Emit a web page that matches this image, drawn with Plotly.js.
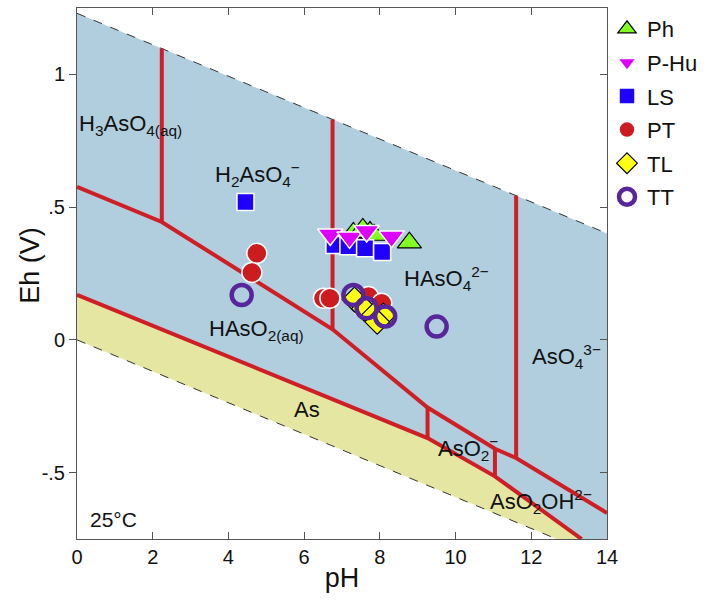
<!DOCTYPE html>
<html>
<head>
<meta charset="utf-8">
<script src="https://cdn.plot.ly/plotly-3.0.1.min.js"></script>
<style>html,body{margin:0;padding:0;background:#fff;}#chart{width:725px;height:600px;}</style>
</head>
<body>
<div id="chart"></div>
<script>
// ---- Water stability limits (dashed) ----
const waterUpperPH = [0, 14];
const waterUpperEh = [1.23, 0.401];
const waterLowerPH = [0, 12.67];
const waterLowerEh = [0, -0.75];

// ---- Arsenic species boundaries (red) ----
const asMetalPH = [0, 9.26, 11.04, 13.33];
const asMetalEh = [0.17, -0.37, -0.514, -0.75];
const redoxPH = [0, 2.24, 6.75, 9.26, 11.04, 11.6, 14];
const redoxEh = [0.576, 0.444, 0.04, -0.255, -0.41, -0.445, -0.652];
const vertPH = [2.24, 6.75, 9.26, 11.04, 11.6];
const vertLowEh = [0.444, 0.04, -0.37, -0.514, -0.445];
const vertHighEh = [1.097, 0.83, -0.255, -0.41, 0.543];

// ---- Samples ----
const phPH = [7.30, 7.55, 7.74, 7.85, 8.78];
const phEh = [0.403, 0.418, 0.406, 0.395, 0.366];
const phuPH = [6.69, 7.20, 7.65, 8.31];
const phuEh = [0.397, 0.386, 0.410, 0.389];
const lsPH = [4.45, 6.80, 7.17, 7.61, 8.06];
const lsEh = [0.519, 0.357, 0.353, 0.345, 0.331];
const ptPH = [4.75, 4.62, 6.51, 6.68, 7.70, 8.05, 7.55];
const ptEh = [0.326, 0.254, 0.157, 0.157, 0.163, 0.138, 0.125];
const tlPH = [7.33, 7.58, 7.83, 8.09, 7.93];
const tlEh = [0.152, 0.118, 0.092, 0.092, 0.068];
const ttPH = [4.35, 7.30, 7.65, 8.14, 9.50];
const ttEh = [0.169, 0.169, 0.119, 0.088, 0.050];

// ---- Species labels ----
const labelText = ['H<sub>3</sub>AsO<sub>4(aq)</sub>', 'H<sub>2</sub>AsO<sub>4</sub><sup>−</sup>',
  'HAsO<sub>4</sub><sup>2−</sup>', 'HAsO<sub>2(aq)</sub>', 'AsO<sub>4</sub><sup>3−</sup>', 'As',
  'AsO<sub>2</sub><sup>−</sup>', 'AsO<sub>2</sub>OH<sup>2−</sup>', '25°C'];
const labelPH = [0.0, 3.6, 8.59, 3.43, 11.97, 5.68, 9.48, 10.86, 0.29];
const labelEh = [0.81, 0.624, 0.233, 0.038, -0.064, -0.263, -0.41, -0.608, -0.677];

const FONT = 'Liberation Sans, Arial, sans-serif';
const RED = '#cf1f26';

// Build polygons from the boundary arrays
const blueX = waterUpperPH.concat([14]).concat(asMetalPH.slice().reverse());
const blueY = waterUpperEh.concat([-0.75]).concat(asMetalEh.slice().reverse());
const yellowX = asMetalPH.concat(waterLowerPH.slice().reverse());
const yellowY = asMetalEh.concat(waterLowerEh.slice().reverse());
const vx = [], vy = [];
vertPH.forEach((p, i) => { vx.push(p, p, null); vy.push(vertLowEh[i], vertHighEh[i], null); });

const traces = [
  {x: blueX, y: blueY, type: 'scatter', mode: 'lines', fill: 'toself', fillcolor: '#b0cede',
   line: {width: 0}, showlegend: false, hoverinfo: 'skip'},
  {x: yellowX, y: yellowY, type: 'scatter', mode: 'lines', fill: 'toself', fillcolor: '#e5e6a1',
   line: {width: 0}, showlegend: false, hoverinfo: 'skip'},
  {x: waterUpperPH, y: waterUpperEh, type: 'scatter', mode: 'lines',
   line: {color: '#333', width: 1, dash: 'dash'}, showlegend: false},
  {x: waterLowerPH, y: waterLowerEh, type: 'scatter', mode: 'lines', yaxis: 'y2',
   line: {color: '#333', width: 1, dash: 'dash'}, showlegend: false},
  {x: asMetalPH, y: asMetalEh, type: 'scatter', mode: 'lines', line: {color: RED, width: 4}, showlegend: false},
  {x: redoxPH, y: redoxEh, type: 'scatter', mode: 'lines', line: {color: RED, width: 4}, showlegend: false},
  {x: vx, y: vy, type: 'scatter', mode: 'lines', line: {color: RED, width: 4}, showlegend: false, connectgaps: false},
  {x: phPH, y: phEh, name: 'Ph', type: 'scatter', mode: 'markers', legendrank: 1, legendgroup: 'g1',
   marker: {symbol: 'triangle-up', size: 21, color: '#80ff20', line: {color: '#000', width: 1.2}}},
  {x: lsPH, y: lsEh, name: 'LS', type: 'scatter', mode: 'markers', legendrank: 3, legendgroup: 'g3',
   marker: {symbol: 'square', size: 17, color: '#1f00ff', line: {color: '#fff', width: 1.5}}},
  {x: phuPH, y: phuEh, name: 'P-Hu', type: 'scatter', mode: 'markers', legendrank: 2, legendgroup: 'g2',
   marker: {symbol: 'triangle-down', size: 22, color: '#dd00ff', line: {color: '#fff', width: 1.5}}},
  {x: ptPH, y: ptEh, name: 'PT', type: 'scatter', mode: 'markers', legendrank: 4, legendgroup: 'g4',
   marker: {symbol: 'circle', size: 20, color: '#cc1c1f', line: {color: '#fff', width: 1.5}}},
  {x: tlPH, y: tlEh, name: 'TL', type: 'scatter', mode: 'markers', legendrank: 5, legendgroup: 'g5',
   marker: {symbol: 'diamond', size: 19, color: '#ffff10', line: {color: '#000', width: 1.2}}},
  {x: ttPH, y: ttEh, name: 'TT', type: 'scatter', mode: 'markers', legendrank: 6, legendgroup: 'g6',
   marker: {symbol: 'circle-open', size: 20, color: '#58259a', line: {color: '#58259a', width: 4.5}}}
];

const annotations = labelText.map((t, i) => ({
  text: t, x: labelPH[i], y: labelEh[i], xref: 'x', yref: 'y', xanchor: 'left', yanchor: 'middle',
  showarrow: false, font: {family: FONT, size: i === 8 ? 21 : 22, color: '#111'}
}));
annotations.push({
  text: 'Eh (V)', xref: 'paper', yref: 'paper', x: -0.089, y: 0.516, xanchor: 'center', yanchor: 'middle',
  textangle: -90, showarrow: false, font: {family: FONT, size: 27, color: '#111'}
});

const layout = {
  width: 725, height: 600,
  margin: {l: 77, r: 118, t: 8, b: 61},
  paper_bgcolor: '#fff', plot_bgcolor: '#fff',
  font: {family: FONT, color: '#111'},
  showlegend: true,
  legend: {x: 1.0, xanchor: 'left', y: 1.0, yanchor: 'top', font: {family: FONT, size: 22, color: '#111'},
           bgcolor: 'rgba(0,0,0,0)', borderwidth: 0, tracegroupgap: 2, traceorder: 'grouped'},
  xaxis: {range: [0, 14], tickvals: [0, 2, 4, 6, 8, 10, 12, 14], ticks: 'inside', ticklen: 7,
          tickcolor: '#555', showline: true, linecolor: '#555', linewidth: 1, mirror: 'ticks',
          showgrid: false, zeroline: false, tickfont: {size: 20, family: FONT},
          title: {text: 'pH', font: {size: 27, family: FONT}, standoff: 1}},
  yaxis: {range: [-0.75, 1.25], tickvals: [-0.5, 0, 0.5, 1], ticktext: ['-.5', '0', '.5', '1'],
          ticks: 'outside', ticklen: 7, tickcolor: '#555', showline: true, linecolor: '#555', linewidth: 1,
          mirror: true, showgrid: false, zeroline: false, tickfont: {size: 20, family: FONT}},
  yaxis2: {range: [-0.75, 1.25], overlaying: 'y', side: 'right', tickvals: [-0.5, 0, 0.5, 1],
           ticks: 'inside', ticklen: 7, tickcolor: '#555', showticklabels: false, showline: false,
           showgrid: false, zeroline: false},
  annotations: annotations
};

Plotly.newPlot('chart', traces, layout, {displayModeBar: false, staticPlot: true});
</script>
</body>
</html>
